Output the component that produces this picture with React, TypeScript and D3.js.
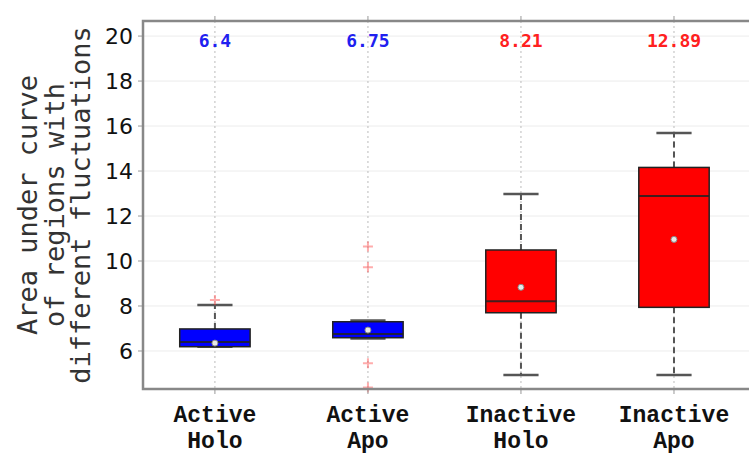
import * as d3 from "d3";

// box plot values
const categories = [
  ["Active", "Holo"],
  ["Active", "Apo"],
  ["Inactive", "Holo"],
  ["Inactive", "Apo"],
];
const q1 = [6.19, 6.59, 7.7, 7.94];
const q3 = [6.98, 7.3, 10.49, 14.16];
const medians = [6.4, 6.75, 8.21, 12.89];
const means = [6.35, 6.93, 8.83, 10.96];
const whiskerLow = [6.19, 6.55, 4.93, 4.93];
const whiskerHigh = [8.04, 7.35, 12.98, 15.69];
const outliers = [[8.27], [10.64, 9.72, 5.45, 4.38], [], []];
const medianLabels = ["6.4", "6.75", "8.21", "12.89"];
const boxColors = ["#0000ff", "#0000ff", "#ff0000", "#ff0000"];
const labelColors = ["#2020f0", "#2020f0", "#ff2020", "#ff2020"];
const yTicks = [6, 8, 10, 12, 14, 16, 18, 20];
const yLabelLines = ["Area under curve", "of regions with", "different fluctuations"];

const W = 749;
const H = 454;
const plot = { left: 143, top: 21, right: 750.5, bottom: 389 };

export default function App() {
  const x = d3.scaleLinear().domain([0.53, 4.5]).range([plot.left, plot.right]);
  const y = d3.scaleLinear().domain([4.31, 20.67]).range([plot.bottom, plot.top]);
  const positions = categories.map((_, i) => i + 1);
  const boxHalf = 0.23;
  const capHalf = 0.115;

  return (
    <svg
      width={W}
      height={H}
      style={{ position: "absolute", left: 0, top: 0, background: "#fff" }}
    >
      {/* horizontal grid */}
      {yTicks.map((t) => (
        <line key={"h" + t} x1={plot.left} x2={W} y1={y(t)} y2={y(t)} stroke="#ececec" strokeWidth={1} />
      ))}
      {/* vertical dotted grid */}
      {positions.map((p) => (
        <line
          key={"v" + p}
          x1={x(p)}
          x2={x(p)}
          y1={plot.top}
          y2={plot.bottom}
          stroke="#bbb"
          strokeWidth={1}
          strokeDasharray="2,3"
        />
      ))}

      {/* boxes */}
      {positions.map((p, i) => {
        const cx = x(p);
        const bx0 = x(p - boxHalf);
        const bx1 = x(p + boxHalf);
        const c0 = x(p - capHalf);
        const c1 = x(p + capHalf);
        return (
          <g key={"b" + i}>
            <line x1={cx} x2={cx} y1={y(q3[i])} y2={y(whiskerHigh[i])} stroke="#555" strokeWidth={2} strokeDasharray="6,4" />
            <line x1={cx} x2={cx} y1={y(q1[i])} y2={y(whiskerLow[i])} stroke="#555" strokeWidth={2} strokeDasharray="6,4" />
            <line x1={c0} x2={c1} y1={y(whiskerHigh[i])} y2={y(whiskerHigh[i])} stroke="#555" strokeWidth={2.5} />
            <line x1={c0} x2={c1} y1={y(whiskerLow[i])} y2={y(whiskerLow[i])} stroke="#555" strokeWidth={2.5} />
            <rect
              x={bx0}
              y={y(q3[i])}
              width={bx1 - bx0}
              height={y(q1[i]) - y(q3[i])}
              fill={boxColors[i]}
              stroke="#222"
              strokeWidth={1.5}
            />
            <line x1={bx0} x2={bx1} y1={y(medians[i])} y2={y(medians[i])} stroke="#222" strokeOpacity={0.85} strokeWidth={2} />
            <circle cx={cx} cy={y(means[i])} r={3} fill="#e8e8e8" stroke="#888" strokeWidth={1} />
            {outliers[i].map((o, k) => (
              <path
                key={k}
                d={`M${cx - 5},${y(o)}H${cx + 5}M${cx},${y(o) - 5}V${y(o) + 5}`}
                stroke="#ff3030"
                strokeOpacity={0.4}
                strokeWidth={2}
              />
            ))}
            <text
              x={cx}
              y={47}
              textAnchor="middle"
              fontFamily="DejaVu Sans Mono"
              fontWeight="bold"
              fontSize={18}
              fill={labelColors[i]}
            >
              {medianLabels[i]}
            </text>
          </g>
        );
      })}

      {/* ticks */}
      {yTicks.map((t) => (
        <g key={"yt" + t}>
          <line x1={plot.left - 5} x2={plot.left} y1={y(t)} y2={y(t)} stroke="#999" strokeWidth={1} />
          <text
            x={133}
            y={y(t)}
            dy="0.36em"
            textAnchor="end"
            fontFamily="DejaVu Sans"
            fontSize={22}
            fill="#111"
          >
            {t}
          </text>
        </g>
      ))}
      {positions.map((p, i) => (
        <g key={"xt" + i}>
          <line x1={x(p)} x2={x(p)} y1={plot.bottom} y2={plot.bottom + 5} stroke="#999" strokeWidth={1} />
          <line x1={x(p)} x2={x(p)} y1={plot.top - 5} y2={plot.top} stroke="#999" strokeWidth={1} />
          {categories[i].map((line, k) => (
            <text
              key={k}
              x={x(p)}
              y={422 + k * 26}
              textAnchor="middle"
              fontFamily="Liberation Mono"
              fontWeight="bold"
              fontSize={23}
              fill="#111"
            >
              {line}
            </text>
          ))}
        </g>
      ))}

      {/* frame */}
      <path
        d={`M${W + 2},${plot.top}H${plot.left}V${plot.bottom}H${W + 2}`}
        fill="none"
        stroke="#888"
        strokeWidth={2.5}
      />

      {/* y axis label */}
      {yLabelLines.map((line, k) => (
        <text
          key={k}
          transform={`translate(${37 + k * 26.5},205) rotate(-90)`}
          textAnchor="middle"
          fontFamily="DejaVu Sans Mono"
          fontSize={27}
          fill="#333"
        >
          {line}
        </text>
      ))}
    </svg>
  );
}
